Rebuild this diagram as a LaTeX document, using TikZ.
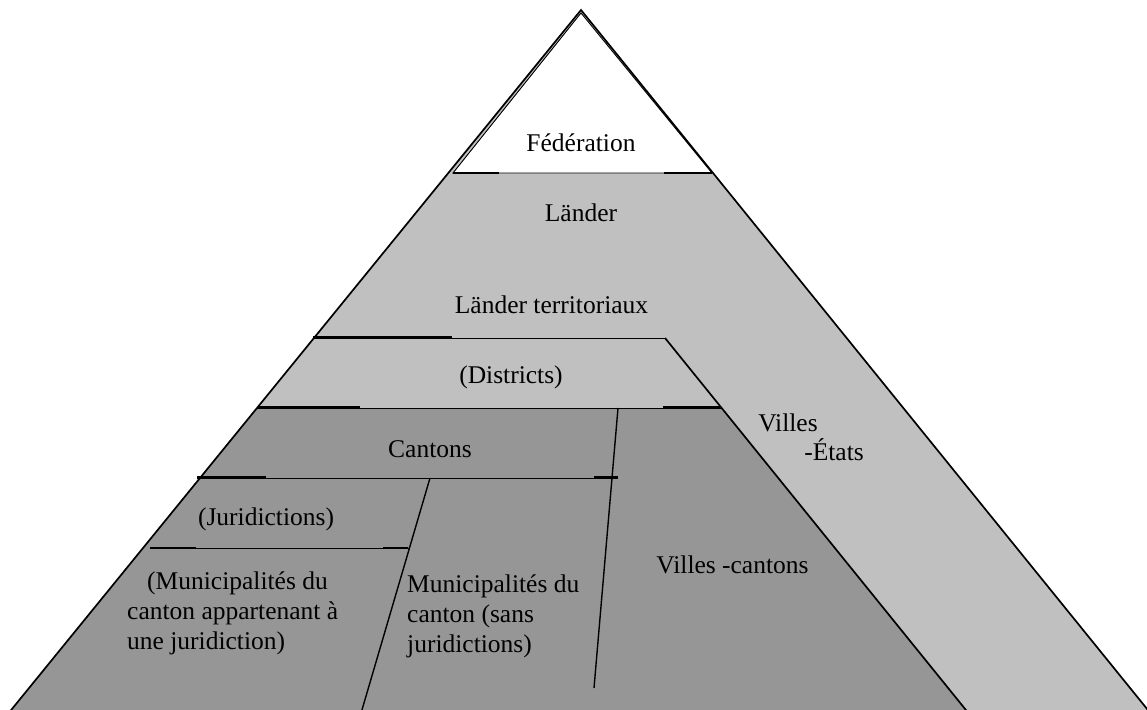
\documentclass[tikz,border=0pt]{standalone}
\usepackage{fontspec}
\setmainfont{Liberation Serif}
\definecolor{lightband}{HTML}{C0C0C0}
\definecolor{darkband}{HTML}{969696}
\begin{document}
\begin{tikzpicture}[x=1pt,y=-1pt,
  outline/.style={line width=1.7pt},
  thinrule/.style={line width=0.9pt},
  divider/.style={line width=1.4pt},
  stub/.style={line width=2.2pt},
  label/.style={font=\fontsize{25.5}{30}\selectfont, inner sep=0pt}]
\useasboundingbox (0,0) rectangle (1147,709);
\clip (0,0) rectangle (1147,709);

% pyramid corners
\coordinate (apex) at (581,10);
\coordinate (baseL) at (3,720);
\coordinate (baseR) at (1156,720);

% whole pyramid in the light tone
\fill[lightband] (apex) -- (baseR) -- (baseL) -- cycle;

% white top (Federation)
\filldraw[fill=white, thinrule] (581,13) -- (712,173) -- (453,173) -- cycle;

% district band corners
\coordinate (dTL) at (313,338);
\coordinate (dTR) at (665,338);
\coordinate (dBL) at (257,408);
\coordinate (dBR) at (721.6,408);
\coordinate (cityBase) at (974,720);

% dark lower block (cantons and below)
\fill[darkband] (dBL) -- (dBR) -- (cityBase) -- (baseL) -- cycle;

% horizontal rules
\draw[thinrule] (dTL) -- (dTR);
\draw[thinrule] (dBL) -- (dBR);
\coordinate (cL) at (197,478);
\coordinate (cR) at (618,478);
\draw[thinrule] (cL) -- (cR);
\coordinate (jL) at (150,548);
\coordinate (jR) at (409,548);
\draw[thinrule] (jL) -- (jR);

% slanted dividers
\coordinate (vTop) at (618,408);
\coordinate (vBot) at (594,688);
\draw[divider] (vTop) -- (vBot);
\coordinate (mTop) at (430,478);
\coordinate (mBot) at (359,720);
\draw[divider] (mTop) -- (mBot);

% heavier stubs at the ends of the rules
\draw[stub] (453,173) -- (499,173);
\draw[stub] (664,173) -- (712,173);
\draw[stub] (313,337) -- (452,337);
\draw[stub] (258,407) -- (360,407);
\draw[stub] (663,407) -- (720,407);
\draw[stub] (197,477) -- (266,477);
\draw[stub] (594,477) -- (618,477);
\draw[stub] (150,548) -- (196,548);
\draw[stub] (383,548) -- (408,548);

% outer edges
\draw[outline] (dTR) -- (cityBase);
\draw[outline] (baseL) -- (apex) -- (baseR);

% labels
\node[label] (fed) at (581,143) {Fédération};
\node[label] (laender) at (581,213) {Länder};
\node[label] (lterr) at (551.5,305) {Länder territoriaux};
\node[label] (distr) at (511,377) {(Districts)};
\node[label] (villes) at (788,423) {Villes};
\node[label] (etats) at (834,450) {-États};
\node[label] (cant) at (430,449) {Cantons};
\node[label] (jur) at (266,519) {(Juridictions)};
\node[label, align=left, anchor=north west] (munA) at (127,572)
  {\hspace*{20pt}(Municipalités du\\canton appartenant à\\une juridiction)};
\node[label, align=left, anchor=north west] (munB) at (407,575)
  {Municipalités du\\canton (sans\\juridictions)};
\node[label] (vcant) at (732.5,565) {Villes -cantons};
\end{tikzpicture}
\end{document}
